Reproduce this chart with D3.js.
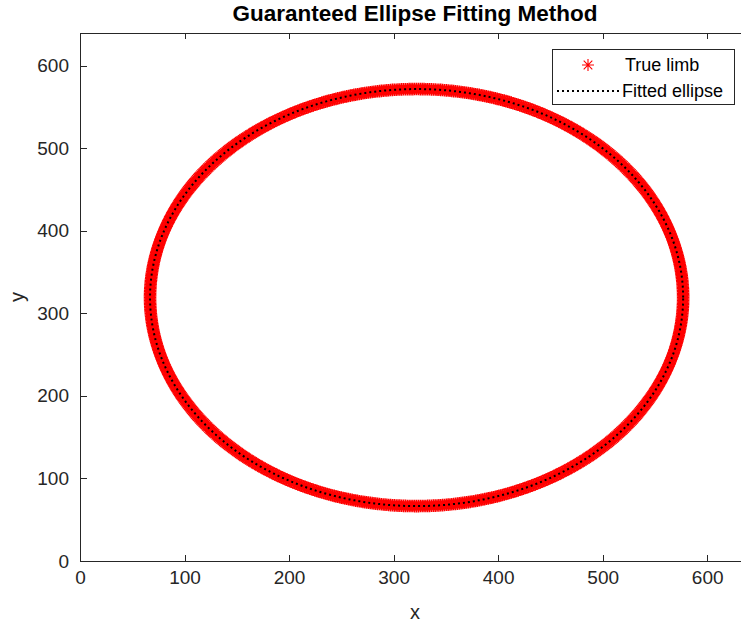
<!DOCTYPE html>
<html><head><meta charset="utf-8">
<script src="https://cdn.jsdelivr.net/npm/d3@7"></script>
<style>
body{margin:0;background:#fff;overflow:hidden}
text{font-family:"Liberation Sans",Arial,Helvetica,sans-serif;fill:#262626}
</style>
</head><body><svg id="c" width="741" height="626"></svg>
<script>
// ---- data ----
const titleText = "Guaranteed Ellipse Fitting Method";
const xLabel = "x", yLabel = "y";
const xDomain = [0, 640];
const yDomain = [0, 640];
const xTicks = [0, 100, 200, 300, 400, 500, 600];
const yTicks = [0, 100, 200, 300, 400, 500, 600];
const seriesNames = ["True limb", "Fitted ellipse"];
// true limb: points sampled on the observed limb (centre and semi-axes in data units)
const limbCenter = [322, 319];
const limbRadii = [255, 252.5];
const limbAnglesDeg = d3.range(0, 360, 0.4);
// fitted ellipse parameters (centre, semi-axes)
const fitCenter = [322, 319];
const fitRadii = [255, 252.5];

// ---- drawing ----
const svg = d3.select("#c");
const L = 80, T = 32.5, B = 561, R = 749;
const x = d3.scaleLinear().domain(xDomain).range([L, R]);
const y = d3.scaleLinear().domain(yDomain).range([B, T]);
const axisColor = "#262626";

const limbPts = limbAnglesDeg.map(a => {
  const t = a * Math.PI / 180;
  return [limbCenter[0] + limbRadii[0] * Math.cos(t), limbCenter[1] + limbRadii[1] * Math.sin(t)];
});
const fitPts = d3.range(0, 361, 0.5).map(a => {
  const t = a * Math.PI / 180;
  return [fitCenter[0] + fitRadii[0] * Math.cos(t), fitCenter[1] + fitRadii[1] * Math.sin(t)];
});

const star = "M-6.3,0L6.3,0M0,-6.3L0,6.3M-4.5,-4.5L4.5,4.5M-4.5,4.5L4.5,-4.5";
const legendStar = "M-6,0L6,0M0,-6L0,6M-4.3,-4.3L4.3,4.3M-4.3,4.3L4.3,-4.3";

const plot = svg.append("g");
plot.selectAll("path.limb").data(limbPts).join("path")
  .attr("class", "limb")
  .attr("d", star)
  .attr("transform", d => `translate(${x(d[0])},${y(d[1])})`)
  .attr("fill", "none").attr("stroke", "#ff0000").attr("stroke-width", 1.5);

plot.append("path").datum(fitPts)
  .attr("d", d3.line().x(d => x(d[0])).y(d => y(d[1])))
  .attr("fill", "none").attr("stroke", "#000").attr("stroke-width", 2)
  .attr("stroke-dasharray", "2,3");

// axes
function styleAxis(g) {
  g.selectAll(".domain").attr("stroke", axisColor).attr("stroke-width", 1);
  g.selectAll(".tick line").attr("stroke", axisColor).attr("stroke-width", 1);
  g.selectAll(".tick text").attr("fill", axisColor).style("font-size", "19px");
}
svg.append("g").attr("transform", `translate(0,${B})`)
  .call(d3.axisBottom(x).tickValues(xTicks).tickSizeInner(-6.5).tickSizeOuter(0).tickPadding(10))
  .call(styleAxis);
svg.append("g").attr("transform", `translate(0,${T})`)
  .call(d3.axisTop(x).tickValues(xTicks).tickSizeInner(-6.5).tickSizeOuter(0).tickFormat(""))
  .call(styleAxis);
svg.append("g").attr("transform", `translate(${L},0)`)
  .call(d3.axisLeft(y).tickValues(yTicks).tickSizeInner(-6.5).tickSizeOuter(0).tickPadding(11))
  .call(styleAxis);
svg.append("g").attr("transform", `translate(${R},0)`)
  .call(d3.axisRight(y).tickValues(yTicks).tickSizeInner(-6.5).tickSizeOuter(0).tickFormat(""))
  .call(styleAxis);
svg.selectAll(".domain").attr("shape-rendering", "crispEdges");
svg.selectAll(".tick line").attr("shape-rendering", "crispEdges");

// labels
svg.append("text").attr("x", 415).attr("y", 21).attr("text-anchor", "middle")
  .style("font-size", "22.5px").style("font-weight", "bold").style("fill", "#000").text(titleText);
svg.append("text").attr("x", 415).attr("y", 619).attr("text-anchor", "middle")
  .style("font-size", "20px").text(xLabel);
svg.append("text").attr("transform", "translate(24,297) rotate(-90)").attr("text-anchor", "middle")
  .style("font-size", "20px").text(yLabel);

// legend
const lg = svg.append("g");
lg.append("rect").attr("x", 552).attr("y", 49.5).attr("width", 182).attr("height", 54.5)
  .attr("fill", "#fff").attr("stroke", axisColor).attr("stroke-width", 1).attr("shape-rendering", "crispEdges");
lg.append("path").attr("d", legendStar).attr("transform", "translate(588,65)")
  .attr("fill", "none").attr("stroke", "#ff0000").attr("stroke-width", 1.1);
lg.append("text").attr("x", 625).attr("y", 71).style("font-size", "18px").style("fill", "#000").text(seriesNames[0]);
lg.append("line").attr("x1", 557).attr("x2", 620).attr("y1", 91).attr("y2", 91)
  .attr("stroke", "#000").attr("stroke-width", 2).attr("stroke-dasharray", "2,3");
lg.append("text").attr("x", 622).attr("y", 97).style("font-size", "18px").style("fill", "#000").text(seriesNames[1]);
</script>
</body></html>
